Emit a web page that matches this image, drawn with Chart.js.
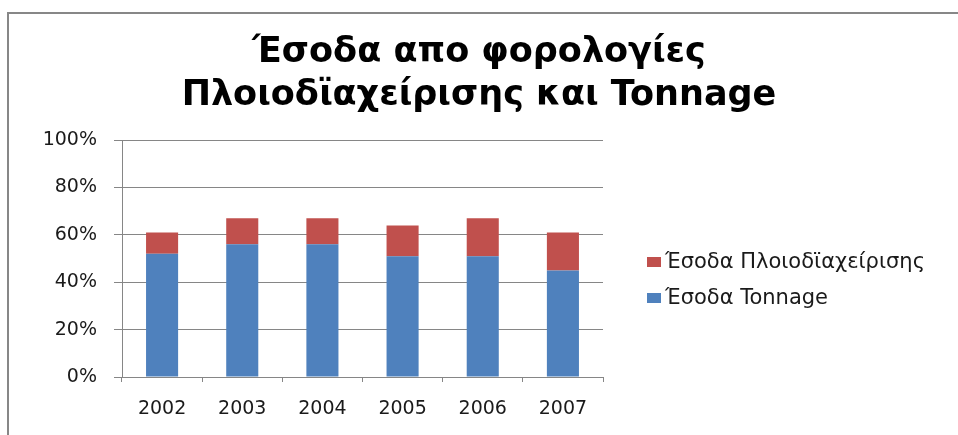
<!DOCTYPE html>
<html>
<head>
<meta charset="utf-8">
<script src="https://cdn.jsdelivr.net/npm/chart.js@4.4.0/dist/chart.umd.min.js"></script>
<style>
  html, body { margin: 0; padding: 0; background: #fff; overflow: hidden; }
  canvas { display: block; }
</style>
</head>
<body>
<canvas id="c" width="958" height="435"></canvas>
<script>
// Categories and series (share of revenue, %)
const years = ['2002', '2003', '2004', '2005', '2006', '2007'];
const tonnageShare = [52, 56, 56, 51, 51, 45];
const shipmanagementShare = [9, 11, 11, 13, 16, 16];
const yTickValues = [0, 20, 40, 60, 80, 100];

const titleLines = ['Έσοδα απο φορολογίες', 'Πλοιοδϊαχείρισης και Tonnage'];
const tonnageLabel = 'Έσοδα Tonnage';
const shipmanagementLabel = 'Έσοδα Πλοιοδϊαχείρισης';

const BLUE = '#4F81BD';
const RED = '#C0504D';
const GRID = '#868686';
const TEXT = '#1a1a1a';
const AXIS_FONT = { family: '"DejaVu Sans"', size: 19 };

// Frame: left and top border of the chart box
const framePlugin = {
  id: 'frame',
  beforeDraw(chart) {
    const ctx = chart.ctx;
    ctx.save();
    ctx.strokeStyle = '#878787';
    ctx.lineWidth = 2;
    ctx.beginPath();
    ctx.moveTo(8, chart.height);
    ctx.lineTo(8, 13);
    ctx.lineTo(chart.width, 13);
    ctx.stroke();
    ctx.restore();
  }
};

// Legend to the right of the plot, top series listed first
const sideLegend = {
  id: 'sideLegend',
  afterDraw(chart) {
    const ctx = chart.ctx;
    const items = chart.data.datasets.slice().reverse();
    const x0 = chart.chartArea.right + 44;
    const y0 = 262;
    ctx.save();
    ctx.font = '21px "DejaVu Sans"';
    ctx.textBaseline = 'middle';
    ctx.textAlign = 'left';
    items.forEach((d, i) => {
      const y = y0 + i * 36;
      ctx.fillStyle = d.backgroundColor;
      ctx.fillRect(x0, y - 5, 14, 10);
      ctx.fillStyle = TEXT;
      ctx.fillText(d.label, x0 + 18, y + 1);
    });
    ctx.restore();
  }
};

new Chart(document.getElementById('c'), {
  type: 'bar',
  data: {
    labels: years,
    datasets: [
      {
        label: tonnageLabel,
        data: tonnageShare,
        backgroundColor: BLUE,
        barPercentage: 0.4,
        categoryPercentage: 1.0
      },
      {
        label: shipmanagementLabel,
        data: shipmanagementShare,
        backgroundColor: RED,
        barPercentage: 0.4,
        categoryPercentage: 1.0
      }
    ]
  },
  options: {
    responsive: false,
    animation: false,
    layout: { padding: 0 },
    plugins: {
      legend: { display: false },
      tooltip: { enabled: false },
      title: {
        display: true,
        text: titleLines,
        color: '#000',
        font: { family: '"DejaVu Sans"', size: 35, weight: 'bold', lineHeight: 1.23 },
        padding: { top: 31, bottom: 23 }
      }
    },
    scales: {
      x: {
        stacked: true,
        grid: { drawOnChartArea: false, drawTicks: true, tickLength: 5, color: GRID },
        border: { color: GRID, width: 1 },
        ticks: { color: TEXT, font: AXIS_FONT, padding: 16 },
        afterFit(s) { s.height = 58; }
      },
      y: {
        stacked: true,
        min: 0,
        max: 100,
        grid: { color: GRID, tickLength: 8 },
        border: { color: GRID, width: 1 },
        ticks: {
          color: TEXT,
          font: AXIS_FONT,
          padding: 17,
          callback: v => v + '%'
        },
        afterBuildTicks(s) { s.ticks = yTickValues.map(v => ({ value: v })); },
        afterFit(s) { s.width = 122; }
      },
      legendSpace: {
        position: 'right',
        display: true,
        grid: { display: false },
        border: { display: false },
        ticks: { display: false },
        afterFit(s) { s.width = 355; }
      }
    }
  },
  plugins: [framePlugin, sideLegend]
});
</script>
</body>
</html>
